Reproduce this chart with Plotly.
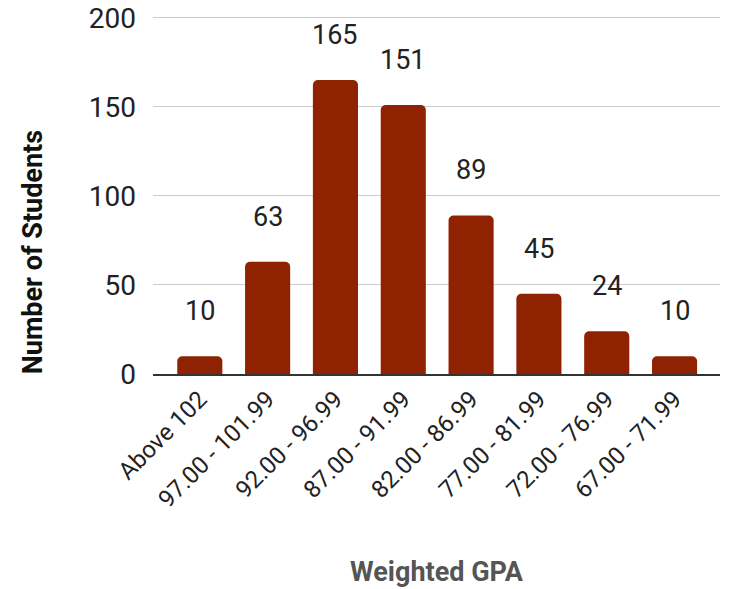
import plotly.graph_objects as go

categories = ["Above 102", "97.00 - 101.99", "92.00 - 96.99", "87.00 - 91.99",
              "82.00 - 86.99", "77.00 - 81.99", "72.00 - 76.99", "67.00 - 71.99"]
students = [10, 63, 165, 151, 89, 45, 24, 10]
y_ticks = [0, 50, 100, 150, 200]

fig = go.Figure()
fig.add_trace(go.Bar(x=categories, y=students, marker=dict(color="#8f2200", line=dict(width=0))))

for c, v in zip(categories, students):
    fig.add_annotation(x=c, y=v, text=str(v), showarrow=False, yanchor="middle",
                       yshift=45, font=dict(family="Roboto", size=27, color="#222222"))

# y axis title, placed like the reference (below the plot's middle)
fig.add_annotation(text="<b>Number of Students</b>", xref="paper", yref="paper",
                   x=0, y=0.34, xshift=-120, xanchor="center", yanchor="middle",
                   textangle=-90, showarrow=False,
                   font=dict(family="Roboto", size=27, color="#111111"))

fig.update_layout(
    width=729, height=589,
    margin=dict(l=153, r=9, t=16, b=215),
    plot_bgcolor="white", paper_bgcolor="white",
    bargap=0.335, barcornerradius=5,
    showlegend=False,
    font=dict(family="Roboto", color="#222222"),
)
fig.update_xaxes(tickangle=-45, tickfont=dict(size=24, color="#222222"),
                 range=[-0.69, 7.67],
                 showline=True, linecolor="#333333", linewidth=1.5, automargin=False,
                 title=dict(text="<b>Weighted GPA</b>", font=dict(size=27, color="#555555"), standoff=50),
                 ticks="")
fig.update_yaxes(range=[0, 201], tickvals=y_ticks, tickfont=dict(size=28, color="#222222"),
                 gridcolor="#cccccc", gridwidth=1, zeroline=False, automargin=False,
                 ticks="", ticklabelstandoff=16, ticklabeloverflow="allow")

fig.write_html("out.html", config={"displayModeBar": False},
               post_script="document.body.style.margin='0';")
